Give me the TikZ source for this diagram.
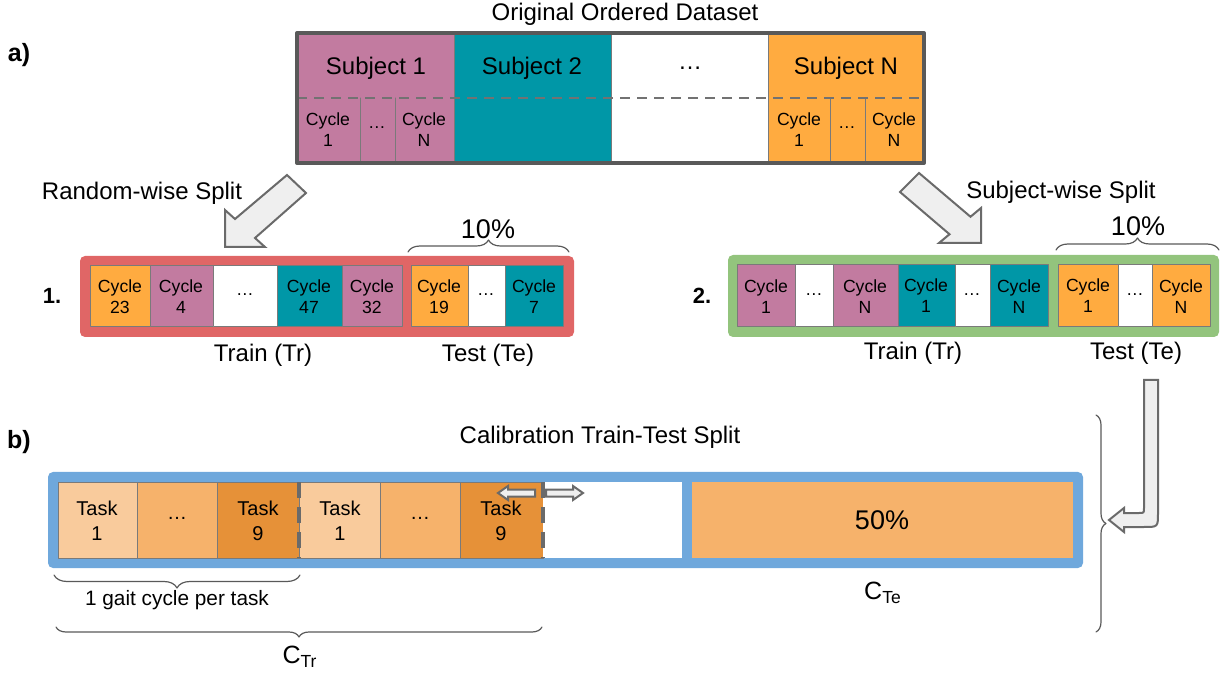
\documentclass[tikz,border=0pt]{standalone}
\usepackage{fontspec}
\setmainfont{Liberation Sans}
\usetikzlibrary{decorations.pathreplacing}
\definecolor{mauve}{HTML}{C27BA0}
\definecolor{subjteal}{HTML}{0097A7}
\definecolor{orng}{HTML}{FFAB40}
\definecolor{redframe}{HTML}{E06666}
\definecolor{greenframe}{HTML}{93C47D}
\definecolor{blueframe}{HTML}{6FA8DC}
\definecolor{tasklight}{HTML}{F9CB9C}
\definecolor{taskmid}{HTML}{F6B26B}
\definecolor{taskdark}{HTML}{E69138}
\definecolor{darkline}{HTML}{595959}
\definecolor{arrowfill}{HTML}{EFEFEF}

\begin{document}
\begin{tikzpicture}[line cap=round,line join=round,x=0.5pt,y=-0.5pt,
  cell/.style={draw=darkline!80,line width=0.5pt},
  frame/.style={draw=none,rounded corners=2.5pt},
  cyc/.style={align=center,font=\fontsize{8.8}{10.5}\selectfont},
  task/.style={align=center,font=\fontsize{10}{12.5}\selectfont},
  lbl/.style={font=\fontsize{12}{14}\selectfont},
  pct/.style={font=\fontsize{13.5}{16}\selectfont},
  num/.style={font=\fontsize{11}{13}\selectfont\bfseries},
  part/.style={font=\fontsize{12.5}{14}\selectfont\bfseries},
  blockarrow/.style={draw=darkline!90,fill=arrowfill,line width=1pt,line join=miter},
  curly/.style={draw=darkline,line width=0.6pt,decorate,decoration={brace,amplitude=#1}},
  curly/.default=6pt]
\useasboundingbox (0,0) rectangle (1222,679);

% a) original dataset
\node[lbl] (title) at (625,14) {Original Ordered Dataset};
\node[part] (parta) at (19,55) {a)};
\draw[cell,fill=mauve] (297,33) rectangle (454,163);
\draw[cell,fill=subjteal] (454,33) rectangle (611,163);
\draw[cell,fill=white] (611,33) rectangle (768,163);
\draw[cell,fill=orng] (768,33) rectangle (924,163);
\draw[cell] (360,98)--(360,163);
\draw[cell] (395,98)--(395,163);
\draw[cell] (830,98)--(830,163);
\draw[cell] (865,98)--(865,163);
\draw[darkline!85,line width=1.4pt,line cap=butt,dash pattern=on 5pt off 3.5pt] (297,98)--(924,98);
\draw[darkline,line width=2pt] (297,33) rectangle (924,163);
\node[lbl] (subj1) at (376,68) {Subject 1};
\node[lbl] (subj2) at (532,68) {Subject 2};
\node[lbl] (subjdots) at (690,68) {…};
\node[lbl] (subjn) at (846,68) {Subject N};
\node[cyc] (s1first) at (328,130) {Cycle\\1};
\node[cyc] (s1dots) at (377,128) {…};
\node[cyc] (s1last) at (424,130) {Cycle\\N};
\node[cyc] (snfirst) at (799,130) {Cycle\\1};
\node[cyc] (sndots) at (847,128) {…};
\node[cyc] (snlast) at (894,130) {Cycle\\N};

% 1. random-wise split
\node[lbl] (randsplit) at (142,193) {Random-wise Split};
\draw[blockarrow] (225,247)--(225,210)--(235,219)--(287,175)--(306,193)--(255,238)--(265,247)--cycle;
\draw[frame,fill=redframe] (80,256) rectangle (574,337);
\draw[cell,fill=orng] (90,266) rectangle (150,327);
\draw[cell,fill=mauve] (150,266) rectangle (213,327);
\draw[cell,fill=white] (213,266) rectangle (277,327);
\draw[cell,fill=subjteal] (277,266) rectangle (342,327);
\draw[cell,fill=mauve] (342,266) rectangle (402,327);
\draw[cell,fill=orng] (411,266) rectangle (468,327);
\draw[cell,fill=white] (468,266) rectangle (505,327);
\draw[cell,fill=subjteal] (505,266) rectangle (563,327);
\node[cyc] (r23) at (120,297) {Cycle\\23};
\node[cyc] (r4) at (181,297) {Cycle\\4};
\node[cyc] (rdots) at (245,295) {…};
\node[cyc] (r47) at (309,297) {Cycle\\47};
\node[cyc] (r32) at (372,297) {Cycle\\32};
\node[cyc] (r19) at (439,297) {Cycle\\19};
\node[cyc] (rtdots) at (486,295) {…};
\node[cyc] (r7) at (534,297) {Cycle\\7};
\node[num] (one) at (52,296) {1.};
\node[lbl] (train1) at (263,355) {Train (Tr)};
\node[lbl] (test1) at (488,355) {Test (Te)};
\draw[curly] (408,252)--(569,252);
\node[pct] (ten1) at (488,229) {10\%};

% 2. subject-wise split
\node[lbl] (subjsplit) at (1061,192) {Subject-wise Split};
\draw[blockarrow] (981,243)--(981,208)--(970.5,216.75)--(919,173)--(900,192)--(949.5,234.25)--(939,243)--cycle;
\draw[frame,fill=greenframe] (728,255) rectangle (1219,337);
\draw[cell,fill=mauve] (737,265) rectangle (795,327);
\draw[cell,fill=white] (795,265) rectangle (833,327);
\draw[cell,fill=mauve] (833,265) rectangle (898,327);
\draw[cell,fill=subjteal] (898,265) rectangle (955,327);
\draw[cell,fill=white] (955,265) rectangle (990,327);
\draw[cell,fill=subjteal] (990,265) rectangle (1048,327);
\draw[cell,fill=orng] (1058,265) rectangle (1118,327);
\draw[cell,fill=white] (1118,265) rectangle (1152,327);
\draw[cell,fill=orng] (1152,265) rectangle (1210,327);
\node[cyc] (m1) at (766,297) {Cycle\\1};
\node[cyc] (mdots) at (814,295) {…};
\node[cyc] (mn) at (865,297) {Cycle\\N};
\node[cyc] (t1) at (926,296) {Cycle\\1};
\node[cyc] (tdots) at (972,295) {…};
\node[cyc] (tn) at (1019,297) {Cycle\\N};
\node[cyc] (o1) at (1088,296) {Cycle\\1};
\node[cyc] (odots) at (1135,295) {…};
\node[cyc] (on) at (1181,297) {Cycle\\N};
\node[num] (two) at (702,296) {2.};
\node[lbl] (train2) at (913,353) {Train (Tr)};
\node[lbl] (test2) at (1136,353) {Test (Te)};
\draw[curly] (1056,250)--(1219,250);
\node[pct] (ten2) at (1138,226) {10\%};

% b) calibration split
\node[part] (partb) at (19,442) {b)};
\node[lbl] (calib) at (600,437) {Calibration Train-Test Split};
\draw[frame,fill=blueframe] (48,472) rectangle (1083,568);
\draw[cell,fill=tasklight] (58,482) rectangle (137,558);
\draw[cell,fill=taskmid] (137,482) rectangle (217,558);
\draw[cell,fill=taskdark] (217,482) rectangle (299,558);
\draw[cell,fill=tasklight] (299,482) rectangle (380,558);
\draw[cell,fill=taskmid] (380,482) rectangle (460,558);
\draw[cell,fill=taskdark] (460,482) rectangle (543,558);
\draw[draw=none,fill=white] (543,482) rectangle (682,558);
\draw[draw=none,fill=taskmid] (692,482) rectangle (1073,558);
\draw[darkline!90,line width=1.6pt,line cap=butt,dash pattern=on 8pt off 4.5pt] (299,482)--(299,558);
\draw[darkline!90,line width=1.6pt,line cap=butt,dash pattern=on 8pt off 4.5pt] (543,482)--(543,558);
\node[task] (k1) at (97,521) {Task\\1};
\node[task] (kdots) at (177,518) {…};
\node[task] (k9) at (258,521) {Task\\9};
\node[task] (l1) at (340,521) {Task\\1};
\node[task] (ldots) at (420,518) {…};
\node[task] (l9) at (501,521) {Task\\9};
\node[pct] (half) at (882,520) {50\%};
\draw[blockarrow] (535,489.5)--(508,489.5)--(508,486)--(498,493)--(508,500)--(508,496.5)--(535,496.5)--cycle;
\draw[blockarrow] (546,489.5)--(573,489.5)--(573,486)--(583,493)--(573,500)--(573,496.5)--(546,496.5)--cycle;
\draw[curly=6.5pt] (300,575)--(54,575);
\node[font=\fontsize{10.4}{12}\selectfont] (gait) at (177,600) {1 gait cycle per task};
\draw[curly=5pt] (542,627)--(56,627);
\node[font=\fontsize{12.5}{14}\selectfont] (ctrain) at (300,657) {C\textsubscript{Tr}};
\node[font=\fontsize{12.5}{14}\selectfont] (ctest) at (883,593) {C\textsubscript{Te}};
\draw[curly=5pt] (1096,415)--(1096,632);
\draw[blockarrow] (1144,380)--(1158,380)--(1158,513) .. controls (1158,527) .. (1144,527)--(1124,527)--(1124,532)--(1109,520)--(1124,508)--(1124,513)--(1139,513) .. controls (1144,513) .. (1144,508)--cycle;
\end{tikzpicture}
\end{document}
